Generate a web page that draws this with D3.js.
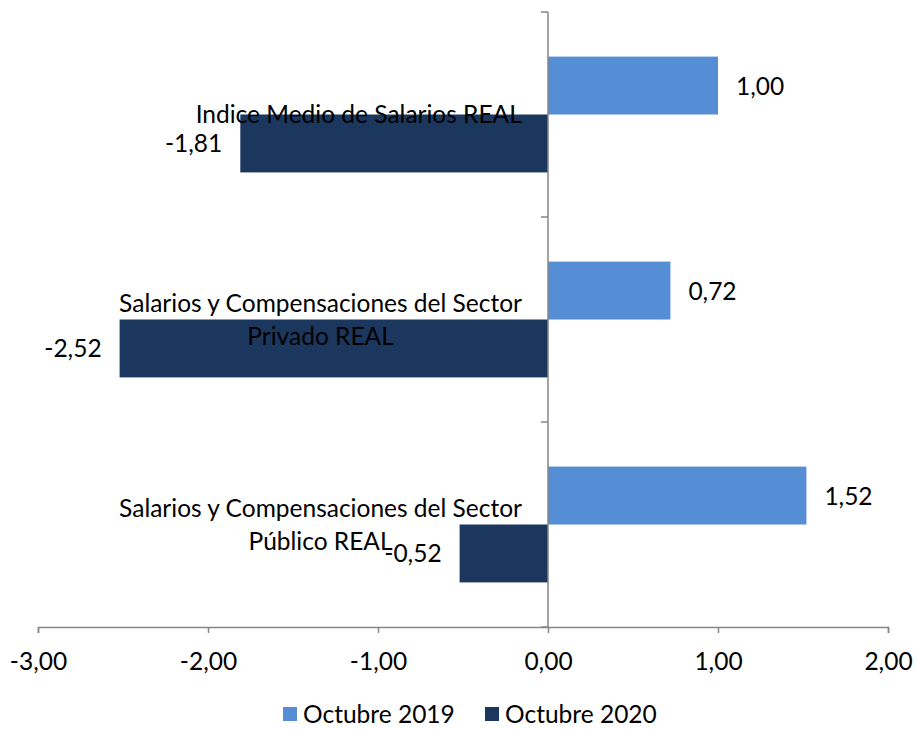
<!DOCTYPE html>
<html>
<head>
<meta charset="utf-8">
<script src="https://cdn.jsdelivr.net/npm/d3@7"></script>
<style>
  body { margin: 0; background: #fff; }
  text { font-family: Lato, "Open Sans", sans-serif; fill: #000; }
</style>
</head>
<body>
<div id="chart"></div>
<script>
// categories, top to bottom as shown
var categories = [
    ["Indice Medio de Salarios REAL"],
    ["Salarios y Compensaciones del Sector", "Privado REAL"],
    ["Salarios y Compensaciones del Sector", "Público REAL"]
];
var seriesNames = ["Octubre 2019", "Octubre 2020"];
var values2019 = [1.00, 0.72, 1.52];
var values2020 = [-1.81, -2.52, -0.52];
var xTicks = [-3, -2, -1, 0, 1, 2];
var colors = ["#558ed5", "#1c375e"];

var width = 916, height = 729;
var fontSize = 24.5;

var locale = d3.formatLocale({ decimal: ",", thousands: ".", grouping: [3], currency: ["", ""], minus: "-" });
var fmt = locale.format(".2f");

var data = categories.map(function (c, i) {
    return { key: i, lines: c, vals: [values2019[i], values2020[i]] };
});

var svg = d3.select("#chart")
    .append("svg")
        .attr("width", width)
        .attr("height", height);

var x = d3.scaleLinear()
    .domain([-3, 2])
    .range([38, 888]);

var y0 = d3.scaleBand()
    .domain(data.map(function (d) { return d.key; }))
    .range([12, 627]);

var y1 = d3.scaleBand()
    .domain([0, 1])
    .range([0, y0.bandwidth()])
    .paddingOuter(0.77);

// bars
var groups = svg.append("g")
    .selectAll("g")
    .data(data)
    .enter()
    .append("g")
        .attr("transform", function (d) { return "translate(0," + y0(d.key) + ")"; });

groups.selectAll("rect")
    .data(function (d) { return d.vals.map(function (v, j) { return { v: v, s: j }; }); })
    .enter()
    .append("rect")
        .attr("x", function (d) { return x(Math.min(0, d.v)); })
        .attr("y", function (d) { return y1(d.s); })
        .attr("width", function (d) { return Math.abs(x(d.v) - x(0)); })
        .attr("height", y1.bandwidth())
        .attr("fill", function (d) { return colors[d.s]; });

// value labels
groups.selectAll("text.val")
    .data(function (d) { return d.vals.map(function (v, j) { return { v: v, s: j }; }); })
    .enter()
    .append("text")
        .attr("class", "val")
        .attr("x", function (d) { return d.v >= 0 ? x(d.v) + 18 : x(d.v) - 18; })
        .attr("y", function (d) { return y1(d.s) + y1.bandwidth() / 2 + 9; })
        .attr("text-anchor", function (d) { return d.v >= 0 ? "start" : "end"; })
        .attr("font-size", fontSize)
        .text(function (d) { return fmt(d.v); });

// x axis
var xAxis = svg.append("g")
    .attr("transform", "translate(0,627)")
    .call(d3.axisBottom(x).tickValues(xTicks).tickSize(6).tickPadding(20).tickFormat(fmt));
xAxis.select(".domain").attr("stroke", "#868686").attr("stroke-width", 1.5);
xAxis.selectAll(".tick line").attr("stroke", "#868686").attr("stroke-width", 1.5);
xAxis.selectAll("text").attr("font-size", fontSize).attr("font-family", "Lato, 'Open Sans', sans-serif").attr("fill", "#000");

// y axis at zero
var yTickPos = d3.range(data.length + 1).map(function (i) { return 12 + i * y0.step(); });
svg.append("line")
    .attr("x1", x(0)).attr("x2", x(0))
    .attr("y1", 12).attr("y2", 627)
    .attr("stroke", "#868686").attr("stroke-width", 1.5);
svg.append("g")
    .selectAll("line")
    .data(yTickPos)
    .enter()
    .append("line")
        .attr("x1", x(0) - 7).attr("x2", x(0))
        .attr("y1", function (d) { return d; })
        .attr("y2", function (d) { return d; })
        .attr("stroke", "#868686").attr("stroke-width", 1.5);

// category labels: centred block whose right edge sits at 522
var labels = svg.append("g")
    .selectAll("text")
    .data(data)
    .enter()
    .append("text")
        .attr("font-size", fontSize)
        .attr("text-anchor", "middle");

labels.each(function (d) {
    var t = d3.select(this);
    var lineH = 33;
    var top = y0(d.key) + y0.bandwidth() / 2 - (d.lines.length * lineH) / 2 + 25;
    d.lines.forEach(function (l, i) {
        t.append("tspan").attr("x", 0).attr("y", top + i * lineH).text(l);
    });
    var w = this.getBBox().width;
    t.attr("transform", "translate(" + (522 - w / 2) + ",0)");
});

// legend
var legend = svg.append("g").attr("transform", "translate(283,707)");
var item = legend.selectAll("g")
    .data(seriesNames)
    .enter()
    .append("g")
        .attr("transform", function (d, i) { return "translate(" + (i * 202) + ",0)"; });
item.append("rect")
    .attr("width", 14).attr("height", 14)
    .attr("fill", function (d, i) { return colors[i]; });
item.append("text")
    .attr("x", 20).attr("y", 16)
    .attr("font-size", fontSize)
    .text(function (d) { return d; });
</script>
</body>
</html>
